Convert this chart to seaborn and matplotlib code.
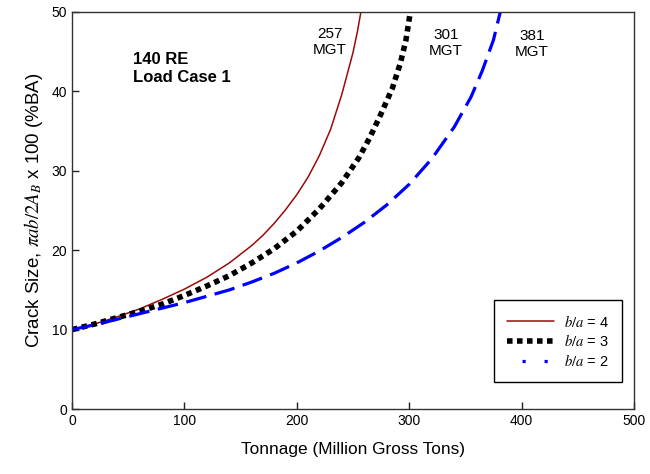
import matplotlib
matplotlib.use("Agg")
import matplotlib.pyplot as plt
from matplotlib.lines import Line2D
import seaborn as sns
import pandas as pd

# Crack growth curves: crack size (%BA) versus accumulated tonnage (MGT)
tonnage_ba4 = [0, 20, 40, 60, 80, 100, 120, 140, 160, 170, 180, 190, 200, 210, 220, 230, 240, 250, 254, 257]
size_ba4 = [10, 10.7, 11.6, 12.6, 13.8, 15.1, 16.6, 18.4, 20.6, 21.9, 23.4, 25.1, 27.0, 29.2, 31.9, 35.2, 39.6, 44.9, 47.6, 50]

tonnage_ba3 = [0, 20, 40, 60, 80, 100, 120, 140, 160, 180, 200, 220, 240, 255, 265, 275, 285, 292, 297, 301]
size_ba3 = [10, 10.7, 11.5, 12.3, 13.2, 14.3, 15.5, 16.8, 18.4, 20.2, 22.4, 25.2, 28.5, 31.6, 34.2, 37.2, 40.4, 43.5, 46.4, 50]

tonnage_ba2 = [0, 20, 40, 60, 80, 100, 120, 140, 160, 180, 200, 220, 240, 260, 280, 300, 320, 340, 355, 365, 375, 381]
size_ba2 = [10, 10.6, 11.3, 12.0, 12.7, 13.4, 14.2, 15.0, 16.0, 17.1, 18.4, 19.9, 21.6, 23.5, 25.7, 28.3, 31.5, 35.5, 39.3, 42.6, 46.5, 50]

series_labels = [r"$b/a$ = 4", r"$b/a$ = 3", r"$b/a$ = 2"]
life_labels = ["257\nMGT", "301\nMGT", "381\nMGT"]
life_positions = [(229.5, 46.2), (332.6, 46.1), (409.3, 46.0)]
case_title = "140 RE\nLoad Case 1"

RED = "#9a0a0a"
BLUE = "#0000ff"

sns.set_style("ticks")
plt.rcParams["font.family"] = ["Liberation Sans", "DejaVu Sans"]
plt.rcParams["mathtext.fontset"] = "stix"
plt.rcParams["text.color"] = "black"
plt.rcParams["axes.labelcolor"] = "black"

fig = plt.figure(figsize=(6.5, 4.74), dpi=100)
ax = fig.add_axes([0.1108, 0.1371, 0.8646, 0.8376])

df4 = pd.DataFrame({"t": tonnage_ba4, "s": size_ba4})
df3 = pd.DataFrame({"t": tonnage_ba3, "s": size_ba3})
df2 = pd.DataFrame({"t": tonnage_ba2, "s": size_ba2})

sns.lineplot(data=df4, x="t", y="s", ax=ax, color=RED, lw=1.1,
             sort=False, label=series_labels[0])
sns.lineplot(data=df3, x="t", y="s", ax=ax, color="black", lw=4.0,
             linestyle=(0, (1.0, 0.8)), sort=False, label=series_labels[1])
sns.lineplot(data=df2, x="t", y="s", ax=ax, color=BLUE, lw=2.3,
             linestyle=(0, (6.5, 2.7)), sort=False, label=series_labels[2])

ax.set_xlim(0, 500)
ax.set_ylim(0, 50)
ax.set_xticks([0, 100, 200, 300, 400, 500])
ax.set_yticks([0, 10, 20, 30, 40, 50])
ax.tick_params(direction="in", length=5, width=1, labelsize=10, colors="#222222",
               labelcolor="black", top=False, right=False)
for sp in ax.spines.values():
    sp.set_visible(True)
    sp.set_color("#333333")
    sp.set_linewidth(1.0)

ax.set_xlabel("Tonnage (Million Gross Tons)", fontsize=12.4, labelpad=10)
ax.set_ylabel(r"Crack Size, $\pi ab/2A_B$ x 100 (%BA)", fontsize=13.5, labelpad=5)

for txt, (x, y) in zip(life_labels, life_positions):
    ax.text(x, y, txt, ha="center", va="center", fontsize=11, linespacing=1.2)

ax.text(54, 44.9, case_title, ha="left", va="top", fontsize=12,
        fontweight="bold", linespacing=1.25)

# Legend: the long dashes of the b/a = 2 line show as short dots in the key
handles = [
    Line2D([], [], color=RED, lw=1.1),
    Line2D([], [], color="black", lw=4.0, linestyle=(0, (1.0, 0.8))),
    Line2D([], [], color=BLUE, lw=2.3, linestyle=(2.2, (1.0, 5.9))),
]
leg = ax.legend(handles, series_labels, loc="lower right",
                bbox_to_anchor=(0.979, 0.068), fontsize=10.5, frameon=True,
                fancybox=False, edgecolor="black", framealpha=1,
                handlelength=3.2, handletextpad=0.7, borderpad=0.9,
                labelspacing=0.25, borderaxespad=0)
leg.get_frame().set_linewidth(1.0)

fig.savefig("out.png", dpi=100)
